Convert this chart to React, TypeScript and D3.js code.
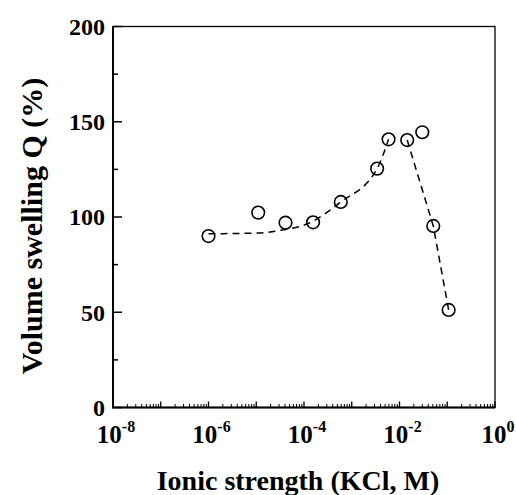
import React, { useEffect, useRef } from 'react';
import * as d3 from 'd3';

// measured points (KCl ionic strength, M) vs volume swelling Q (%)
const ionicStrength = [1e-6, 1.1e-5, 4.1e-5, 1.55e-4, 5.9e-4, 3.4e-3, 5.9e-3, 1.45e-2, 3.0e-2, 5.1e-2, 0.107];
const swelling = [90, 102.3, 97, 97.2, 107.9, 125.4, 140.8, 140.4, 144.5, 95.3, 51.2];

// dashed guide lines as drawn in the figure
const guideLowX = [1e-6, 1.1e-5, 3.2e-5, 1.2e-4, 5.9e-4, 3.4e-3, 5.9e-3];
const guideLowY = [91.2, 91.6, 93, 96.5, 107.9, 125.4, 140.8];
const guideHighX = [1.45e-2, 5.1e-2, 0.107];
const guideHighY = [140.4, 95.3, 51.2];

const xTickExps = [-8, -6, -4, -2, 0];
const yTicks = [0, 50, 100, 150, 200];
const yMinorTicks = [25, 75, 125, 175];

const W = 516;
const H = 495;

const App = () => {
  const ref = useRef<SVGSVGElement>(null);

  useEffect(() => {
    const svg = d3.select(ref.current);
    svg.selectAll('*').remove();

    const left = 113, right = 495, top = 26.5, bottom = 407.5;
    const x = d3.scaleLog().domain([1e-8, 1]).range([left, right]);
    const y = d3.scaleLinear().domain([0, 200]).range([bottom, top]);
    const font = '"Liberation Serif", "Times New Roman", serif';

    // frame
    svg.append('rect')
      .attr('x', left).attr('y', top)
      .attr('width', right - left).attr('height', bottom - top)
      .attr('fill', 'none').attr('stroke', '#000').attr('stroke-width', 1.3);
    svg.append('path')
      .attr('d', `M${left},${top}V${bottom}H${right}`)
      .attr('fill', 'none').attr('stroke', '#000').attr('stroke-width', 2);

    // y ticks (inward)
    yTicks.forEach(v => {
      svg.append('line')
        .attr('x1', left).attr('x2', left + 9)
        .attr('y1', y(v)).attr('y2', y(v))
        .attr('stroke', '#000').attr('stroke-width', 1.5);
      svg.append('text')
        .attr('x', left - 8).attr('y', y(v))
        .attr('dy', '0.35em')
        .attr('text-anchor', 'end')
        .attr('font-family', font).attr('font-weight', 'bold').attr('font-size', 24)
        .text(v);
    });
    yMinorTicks.forEach(v => {
      svg.append('line')
        .attr('x1', left).attr('x2', left + 5)
        .attr('y1', y(v)).attr('y2', y(v))
        .attr('stroke', '#000').attr('stroke-width', 1.5);
    });

    // x ticks (log, inward)
    for (let e = -8; e <= 0; e++) {
      svg.append('line')
        .attr('x1', x(Math.pow(10, e))).attr('x2', x(Math.pow(10, e)))
        .attr('y1', bottom).attr('y2', bottom - 6)
        .attr('stroke', '#000').attr('stroke-width', 1.3);
      if (e < 0) {
        for (let k = 2; k <= 9; k++) {
          const v = k * Math.pow(10, e);
          svg.append('line')
            .attr('x1', x(v)).attr('x2', x(v))
            .attr('y1', bottom).attr('y2', bottom - 3.5)
            .attr('stroke', '#000').attr('stroke-width', 1);
        }
      }
    }
    xTickExps.forEach(e => {
      const t = svg.append('text')
        .attr('x', x(Math.pow(10, e)) + 3).attr('y', 443)
        .attr('text-anchor', 'middle')
        .attr('font-family', font).attr('font-weight', 'bold').attr('font-size', 25);
      t.append('tspan').text('10');
      t.append('tspan').attr('dy', -11).attr('font-size', 16).text(String(e));
    });

    // dashed guides
    const lowLine = d3.line<[number, number]>()
      .x(d => x(d[0])).y(d => y(d[1]))
      .curve(d3.curveMonotoneX);
    const highLine = d3.line<[number, number]>()
      .x(d => x(d[0])).y(d => y(d[1]));
    const dash = (gx: number[], gy: number[], gen: d3.Line<[number, number]>) => {
      svg.append('path')
        .datum(gx.map((v, i) => [v, gy[i]] as [number, number]))
        .attr('d', gen)
        .attr('fill', 'none').attr('stroke', '#000')
        .attr('stroke-width', 1.5).attr('stroke-dasharray', '7,5');
    };
    dash(guideLowX, guideLowY, lowLine);
    dash(guideHighX, guideHighY, highLine);

    // points
    svg.selectAll('.pt')
      .data(ionicStrength)
      .enter()
      .append('circle')
      .attr('class', 'pt')
      .attr('cx', d => x(d))
      .attr('cy', (_, i) => y(swelling[i]))
      .attr('r', 6.3)
      .attr('fill', 'none').attr('stroke', '#000').attr('stroke-width', 1.6);

    // axis titles
    svg.append('text')
      .attr('x', 298).attr('y', 490)
      .attr('text-anchor', 'middle')
      .attr('font-family', font).attr('font-weight', 'bold').attr('font-size', 28)
      .text('Ionic strength (KCl, M)');
    svg.append('text')
      .attr('transform', 'translate(42,226) rotate(-90)')
      .attr('text-anchor', 'middle')
      .attr('font-family', font).attr('font-weight', 'bold').attr('font-size', 30)
      .text('Volume swelling Q (%)');
  }, []);

  return (
    <svg ref={ref} width={W} height={H}
      style={{ position: 'absolute', left: 0, top: 0, background: '#fff' }} />
  );
};

export default App;
